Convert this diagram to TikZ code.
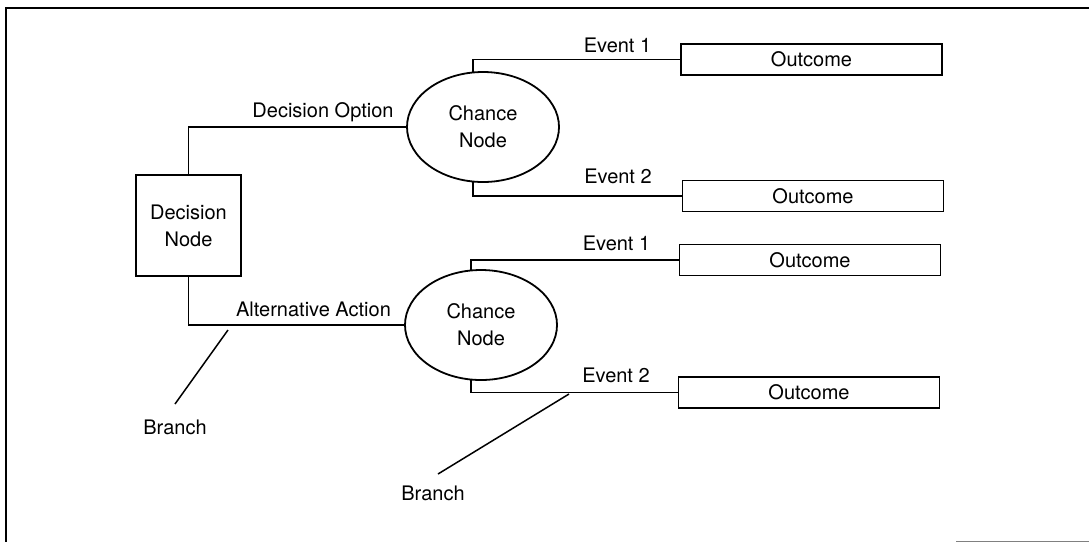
\documentclass[tikz,border=0pt]{standalone}
\usepackage{fontspec}
\setmainfont{TeX Gyre Heros}
\usetikzlibrary{shapes.geometric}
\begin{document}
\begin{tikzpicture}[x=1pt,y=-1pt,
  line width=1.5pt,
  every node/.style={font=\fontsize{20}{27}\selectfont},
  decbox/.style={draw,line width=1.9pt,rectangle,minimum width=105pt,minimum height=101pt,align=center,inner sep=0pt},
  chance/.style={draw,line width=1.8pt,ellipse,minimum width=152pt,minimum height=110pt,align=center,inner sep=0pt},
  outbox/.style={draw,line width=1.9pt,rectangle,minimum width=261pt,minimum height=31pt,inner sep=0pt},
  lbl/.style={anchor=base,inner sep=0pt},
  branch/.style={line width=1.5pt}]
\useasboundingbox (0,0) rectangle (1089,542);

% frame
\draw[line width=2.5pt] (1089,8) -- (6,8) -- (6,542);
\draw[line width=1pt,gray] (956,541) -- (1089,541);

% nodes
\node[decbox] (dec) at (188.5,225.5) {Decision\\Node};
\node[chance] (ch1) at (483,127) {Chance\\Node};
\node[chance] (ch2) at (481,325) {Chance\\Node};
\node[outbox] (o1) at (811.5,59.5) {Outcome};
\node[outbox] (o2) at (813,196) {Outcome};
\node[outbox] (o3) at (810,260) {Outcome};
\node[outbox] (o4) at (809,392.5) {Outcome};

% connectors
\draw (dec.north) |- (ch1.west);
\draw (dec.south) |- (ch2.west);
\draw (ch1.100) |- (o1.west);
\draw (ch1.260) |- (o2.west);
\draw (ch2.100) |- (o3.west);
\draw (ch2.260) |- (o4.west);

% branch labels
\node[lbl] (lopt) at (323,117) {Decision Option};
\node[lbl] (lalt) at (313.5,316) {Alternative Action};
\node[lbl] (le11) at (617.5,52) {Event 1};
\node[lbl] (le12) at (618,183) {Event 2};
\node[lbl] (le21) at (616.5,250) {Event 1};
\node[lbl] (le22) at (616,382) {Event 2};

% pointers to branches
\node[lbl] (br1) at (175,434) {Branch};
\node[lbl] (br2) at (433,500) {Branch};
\coordinate (b1tip) at (228,330);
\coordinate (b1end) at (175,404);
\coordinate (b2tip) at (569,394);
\coordinate (b2end) at (438,474);
\draw[branch] (b1tip) -- (b1end);
\draw[branch] (b2tip) -- (b2end);
\end{tikzpicture}
\end{document}
